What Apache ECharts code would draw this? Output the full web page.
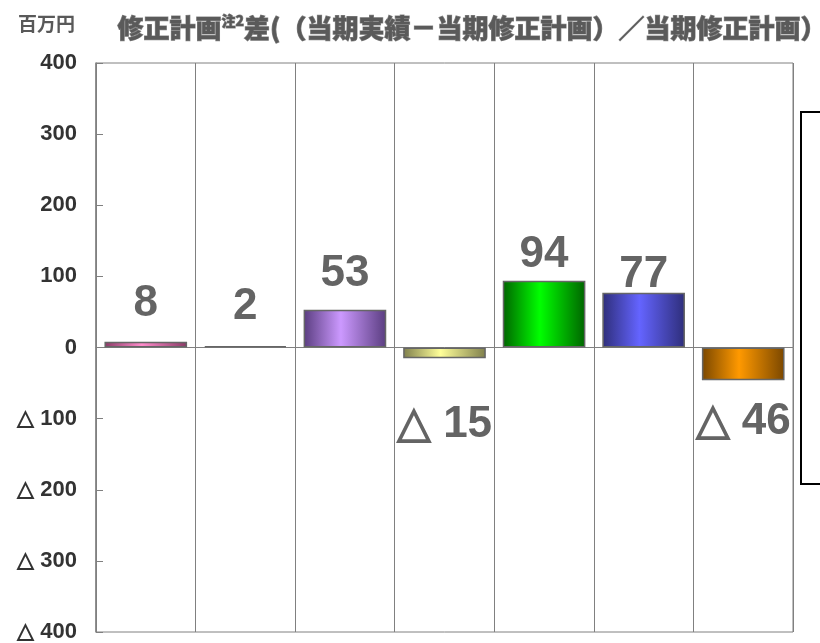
<!DOCTYPE html>
<html>
<head>
<meta charset="utf-8">
<script src="https://cdn.jsdelivr.net/npm/echarts@6/dist/echarts.min.js"></script>
<style>
  html, body { margin: 0; padding: 0; background: #fff; }
  #chart { width: 820px; height: 643px; }
</style>
</head>
<body>
<div id="chart"></div>
<script>
// Segments (one column each) and their variance vs. revised plan, in millions of yen
const categories = ['A', 'B', 'C', 'D', 'E', 'F', 'G'];
const variance = [8, 2, 53, -15, 94, 77, -46];
const axisTicks = [-400, -300, -200, -100, 0, 100, 200, 300, 400];

// Bar fill: [edge shade, highlight] per column
const barShades = [
  ['#8a3a66', '#ff8ccc'],
  ['#4c6680', '#99ccff'],
  ['#5a3d80', '#cc99ff'],
  ['#7f7f4c', '#ffff99'],
  ['#006400', '#00ff00'],
  ['#2e2e7a', '#6464ff'],
  ['#7a4700', '#ff9900']
];
// gap between each bar end and its value label (px)
const labelGap = [16, 17, 14, 45, 4, -4, 20];

const fmt = v => (v < 0 ? '△ ' + Math.abs(v) : String(v));

const chart = echarts.init(document.getElementById('chart'));

const seriesData = variance.map((v, i) => ({
  value: v,
  itemStyle: {
    color: new echarts.graphic.LinearGradient(0, 0, 1, 0, [
      { offset: 0, color: barShades[i][0] },
      { offset: 0.45, color: barShades[i][1] },
      { offset: 1, color: barShades[i][0] }
    ])
  },
  label: {
    position: v < 0 ? 'bottom' : 'top',
    distance: labelGap[i]
  }
}));

const titleFont = {
  fontWeight: 900, fontFamily: 'Noto Sans CJK JP',
  fill: '#5a5a5a', stroke: '#8c8c8c', lineWidth: 1
};

chart.setOption({
  animation: false,
  backgroundColor: '#fff',
  graphic: [
    {
      type: 'text', left: 18, top: 14,
      style: { text: '百万円', font: 'bold 19px "Noto Sans CJK JP"', fill: '#595959' }
    },
    {
      type: 'text', left: 117, top: 13,
      style: {
        text: '{m|修正計画}{s|注2}{m|差(（当期実績－当期修正計画）／当期修正計画）}',
        rich: {
          m: Object.assign({ fontSize: 26, lineHeight: 30 }, titleFont),
          s: Object.assign({ fontSize: 14, lineHeight: 30, verticalAlign: 'top' }, titleFont)
        }
      }
    },
    {
      type: 'rect', shape: { x: 801, y: 112, width: 40, height: 372 },
      style: { fill: '#fff', stroke: '#000', lineWidth: 2 }
    }
  ],
  grid: {
    left: 96, right: 27, top: 63, bottom: 9,
    show: true, borderColor: '#808080', borderWidth: 1
  },
  xAxis: {
    type: 'category',
    data: categories,
    axisLine: { onZero: true, lineStyle: { color: '#808080', width: 1 } },
    axisTick: { show: false },
    axisLabel: { show: false },
    splitLine: { show: true, lineStyle: { color: '#808080', width: 1 } }
  },
  yAxis: {
    type: 'value',
    min: axisTicks[0],
    max: axisTicks[axisTicks.length - 1],
    interval: 100,
    axisLine: { show: true, lineStyle: { color: '#808080', width: 1.5 } },
    axisTick: { show: true, inside: true, length: 7, lineStyle: { color: '#808080' } },
    splitLine: { show: false },
    axisLabel: {
      margin: 19,
      formatter: fmt,
      fontFamily: 'Liberation Sans',
      fontSize: 22,
      fontWeight: 'bold',
      color: '#333'
    }
  },
  series: [{
    type: 'bar',
    data: seriesData,
    barWidth: '83%',
    itemStyle: { borderColor: '#666', borderWidth: 1.5 },
    label: {
      show: true,
      formatter: p => fmt(p.value),
      fontFamily: 'Liberation Sans',
      fontWeight: 'bold',
      fontSize: 44,
      color: '#646464'
    }
  }]
});
</script>
</body>
</html>
